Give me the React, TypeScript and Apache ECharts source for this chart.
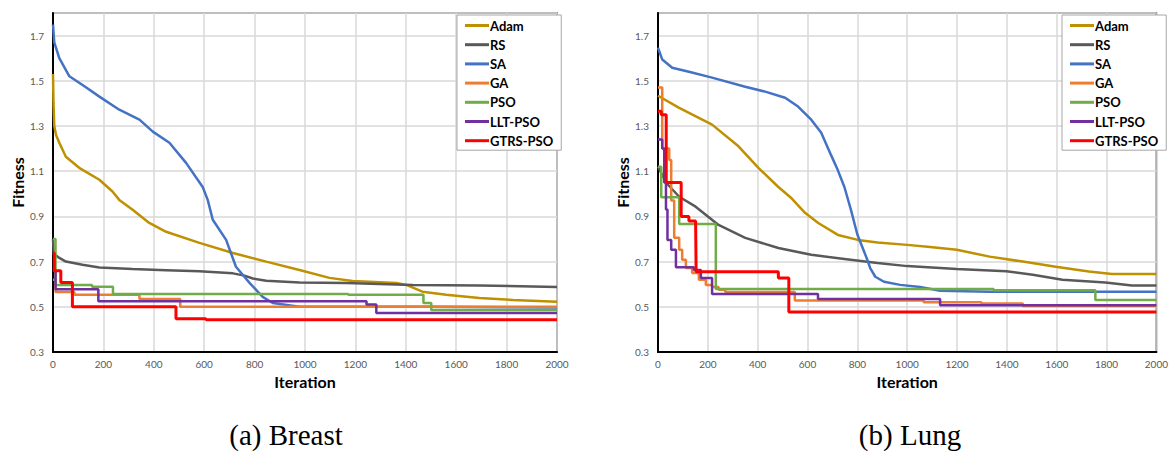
import React, { useEffect, useRef } from "react";
import * as echarts from "echarts";

// ---------- Data (iteration, fitness) ----------
const seriesNames = ["Adam", "RS", "SA", "GA", "PSO", "LLT-PSO", "GTRS-PSO"];
const seriesColors = ["#BF9000", "#595959", "#4472C4", "#ED7D31", "#70AD47", "#7030A0", "#FF0000"];
const stepped = [false, false, false, true, true, true, true];

const yTicks = [0.3, 0.5, 0.7, 0.9, 1.1, 1.3, 1.5, 1.7];
const xTicks = [0, 200, 400, 600, 800, 1000, 1200, 1400, 1600, 1800, 2000];
const captions = ["(a) Breast", "(b) Lung"];

// (a) Breast
const breastAdam = [
  [0, 1.53], [2, 1.4], [5, 1.3], [12, 1.26], [25, 1.226], [51, 1.164], [104, 1.115], [184, 1.062],
  [236, 1.01], [263, 0.973], [316, 0.929], [382, 0.871], [449, 0.832], [581, 0.783], [714, 0.738],
  [846, 0.7], [978, 0.663], [1097, 0.628], [1189, 0.614], [1362, 0.605], [1402, 0.597], [1466, 0.567],
  [1560, 0.553], [1692, 0.539], [1825, 0.53], [2000, 0.522],
];
const breastRS = [
  [0, 0.8], [3, 0.735], [20, 0.72], [51, 0.7], [117, 0.686], [184, 0.674], [316, 0.667], [449, 0.662],
  [581, 0.657], [714, 0.648], [760, 0.638], [793, 0.625], [846, 0.615], [978, 0.607], [1163, 0.605],
  [1428, 0.597], [1692, 0.594], [2000, 0.588],
];
const breastSA = [
  [0, 1.749], [5, 1.67], [25, 1.6], [65, 1.52], [132, 1.47], [184, 1.43], [263, 1.372], [343, 1.328],
  [396, 1.275], [462, 1.226], [528, 1.137], [594, 1.03], [614, 0.973], [634, 0.885], [687, 0.796],
  [726, 0.677], [780, 0.606], [832, 0.544], [872, 0.517], [978, 0.5], [1500, 0.5], [2000, 0.497],
];
const breastGA = [
  [0, 0.62], [10, 0.565], [85, 0.553], [343, 0.535], [505, 0.5], [2000, 0.5],
];
const breastPSO = [
  [0, 0.8], [10, 0.597], [155, 0.589], [238, 0.557], [1172, 0.553], [1470, 0.517], [1501, 0.486], [2000, 0.486],
];
const breastLLT = [
  [0, 0.66], [10, 0.578], [180, 0.525], [1244, 0.51], [1283, 0.473], [2000, 0.473],
];
const breastGTRS = [
  [0, 0.738], [5, 0.66], [31, 0.607], [77, 0.5], [488, 0.447], [607, 0.443], [2000, 0.443],
];

// (b) Lung
const lungAdam = [
  [0, 1.434], [85, 1.38], [217, 1.306], [323, 1.21], [403, 1.115], [483, 1.03], [536, 0.98], [590, 0.916],
  [643, 0.871], [722, 0.818], [802, 0.796], [881, 0.785], [1000, 0.774], [1092, 0.765], [1199, 0.752],
  [1331, 0.722], [1464, 0.7], [1596, 0.677], [1729, 0.656], [1822, 0.645], [2000, 0.645],
];
const lungRS = [
  [0, 1.12], [32, 1.05], [85, 0.987], [151, 0.943], [243, 0.862], [350, 0.805], [483, 0.76], [615, 0.73],
  [748, 0.712], [881, 0.694], [1000, 0.68], [1199, 0.667], [1398, 0.657], [1504, 0.642], [1623, 0.62],
  [1795, 0.608], [1902, 0.594], [2000, 0.594],
];
const lungSA = [
  [0, 1.647], [17, 1.594], [57, 1.558], [124, 1.54], [217, 1.514], [350, 1.474], [430, 1.452], [510, 1.425],
  [562, 1.386], [615, 1.328], [655, 1.27], [695, 1.17], [721, 1.106], [748, 1.03], [774, 0.93],
  [800, 0.82], [840, 0.708], [852, 0.67], [872, 0.633], [907, 0.611], [972, 0.597], [1052, 0.588],
  [1132, 0.571], [1331, 0.567], [2000, 0.567],
];
const lungGA = [
  [0, 1.47], [17, 1.2], [45, 1.15], [53, 0.97], [65, 0.805], [85, 0.752], [97, 0.708], [112, 0.672],
  [137, 0.65], [164, 0.62], [192, 0.597], [217, 0.588], [243, 0.575], [270, 0.566], [549, 0.528],
  [1066, 0.52], [1298, 0.515], [1464, 0.503], [2000, 0.503],
];
const lungPSO = [
  [0, 1.12], [13, 0.985], [85, 0.866], [232, 0.579], [1347, 0.573], [1755, 0.53], [2000, 0.53],
];
const lungLLT = [
  [0, 1.24], [17, 1.2], [25, 1.05], [32, 0.93], [38, 0.796], [53, 0.752], [72, 0.675], [144, 0.663],
  [172, 0.627], [217, 0.557], [642, 0.535], [1132, 0.507], [2000, 0.507],
];
const lungGTRS = [
  [0, 1.365], [13, 1.35], [33, 1.05], [93, 0.9], [124, 0.88], [151, 0.87], [153, 0.655], [483, 0.627],
  [525, 0.477], [2000, 0.477],
];

const breastData = [breastAdam, breastRS, breastSA, breastGA, breastPSO, breastLLT, breastGTRS];
const lungData = [lungAdam, lungRS, lungSA, lungGA, lungPSO, lungLLT, lungGTRS];

const FONT = "Lato";

function makeAxes(gridIndex: number) {
  const xAxis = {
    type: "value",
    gridIndex,
    min: xTicks[0],
    max: xTicks[xTicks.length - 1],
    interval: xTicks[1] - xTicks[0],
    name: "Iteration",
    nameLocation: "middle",
    nameGap: 21,
    nameTextStyle: { fontFamily: FONT, fontWeight: "bold", fontSize: 16, color: "#000" },
    axisLine: { show: true, onZero: false, lineStyle: { color: "#000", width: 2 } },
    axisTick: { show: false },
    axisLabel: { fontFamily: FONT, fontSize: 10, color: "#595959", margin: 7, formatter: (v: number) => String(v) },
    splitLine: { show: true, lineStyle: { color: "#d9d9d9", width: 1.5 } },
  };
  const yAxis = {
    type: "value",
    gridIndex,
    min: 0.3,
    max: 1.8,
    interval: 0.2,
    name: "Fitness",
    nameLocation: "middle",
    nameRotate: 90,
    nameGap: 28,
    nameTextStyle: { fontFamily: FONT, fontWeight: "bold", fontSize: 16, color: "#000" },
    axisLine: { show: true, onZero: false, lineStyle: { color: "#000", width: 2 } },
    axisTick: { show: false },
    axisLabel: {
      fontFamily: FONT,
      fontSize: 10,
      color: "#595959",
      margin: 9,
      showMaxLabel: false,
      formatter: (v: number) => (yTicks.some((t) => Math.abs(t - v) < 1e-6) ? v.toFixed(1) : ""),
    },
    splitLine: { show: true, lineStyle: { color: "#d9d9d9", width: 1.5 } },
  };
  return { xAxis, yAxis };
}

function makeLegend(left: number) {
  return {
    orient: "vertical",
    left,
    top: 15,
    data: seriesNames,
    icon: "rect",
    itemWidth: 24,
    itemHeight: 3,
    itemGap: 4.2,
    padding: [3, 8, 2, 8],
    borderColor: "#a6a6a6",
    borderWidth: 1,
    backgroundColor: "#fff",
    selectedMode: false,
    textStyle: {
      fontFamily: FONT,
      fontWeight: "bold",
      fontSize: 13,
      lineHeight: 15,
      color: "#000",
      padding: [0, 0, 0, -4],
    },
  };
}

export default function App() {
  const ref = useRef<HTMLDivElement>(null);
  useEffect(() => {
    if (!ref.current) return;
    const chart = echarts.init(ref.current, null, { renderer: "svg" });
    const a0 = makeAxes(0);
    const a1 = makeAxes(1);
    const series: any[] = [];
    [breastData, lungData].forEach((group, gi) => {
      group.forEach((d, i) => {
        series.push({
          type: "line",
          name: seriesNames[i],
          xAxisIndex: gi,
          yAxisIndex: gi,
          data: d,
          step: stepped[i] ? "end" : false,
          symbol: "none",
          silent: true,
          lineStyle: { color: seriesColors[i], width: i === 6 ? 3 : 2.5 },
          itemStyle: { color: seriesColors[i] },
        });
      });
    });
    const capFont = '29px "Liberation Serif", "Times New Roman", serif';
    chart.setOption({
      animation: false,
      backgroundColor: "#fff",
      grid: [
        { left: 53, top: 13, width: 504, height: 339, show: true, borderColor: "#404040", borderWidth: 1.5, backgroundColor: "transparent" },
        { left: 658, top: 13, width: 504, height: 339, show: true, borderColor: "#404040", borderWidth: 1.5, backgroundColor: "transparent" },
      ],
      xAxis: [a0.xAxis, a1.xAxis],
      yAxis: [a0.yAxis, a1.yAxis],
      legend: [makeLegend(457), makeLegend(1062)],
      series,
      graphic: [
        {
          type: "text",
          x: 286,
          y: 435,
          style: { text: captions[0], font: capFont, fill: "#000", textAlign: "center", textVerticalAlign: "middle" },
        },
        {
          type: "text",
          x: 910,
          y: 435,
          style: { text: captions[1], font: capFont, fill: "#000", textAlign: "center", textVerticalAlign: "middle" },
        },
      ],
    });
    return () => chart.dispose();
  }, []);
  return <div ref={ref} style={{ position: "absolute", left: 0, top: 0, width: 1171, height: 453 }} />;
}
